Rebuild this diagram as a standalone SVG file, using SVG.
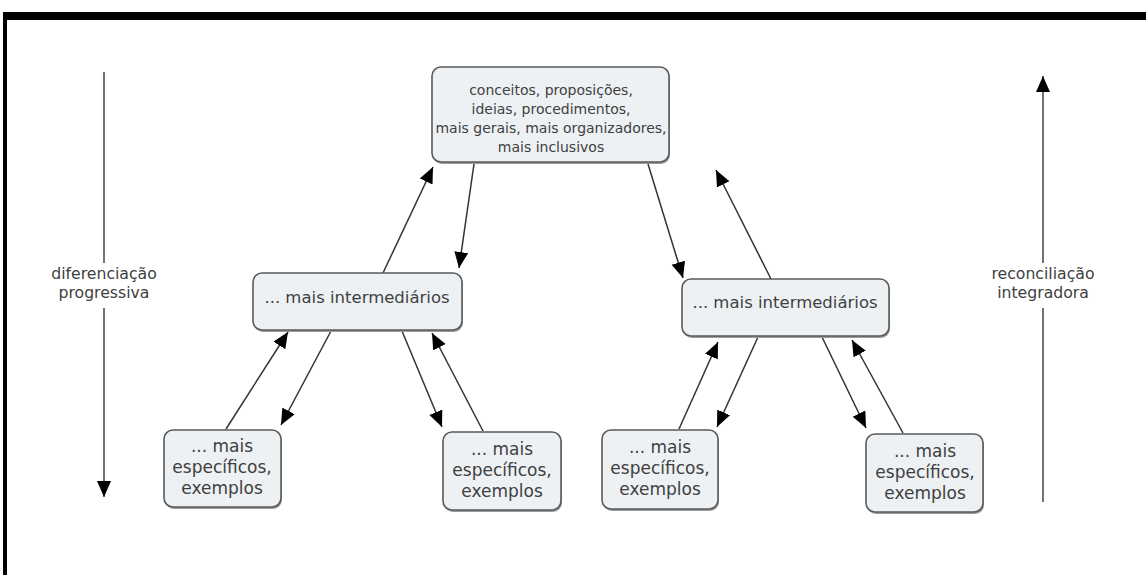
<svg xmlns="http://www.w3.org/2000/svg" width="1146" height="575" viewBox="0 0 1146 575">
<style>
.box{fill:#edf1f4;stroke:#5a5a5a;stroke-width:1.6}
.shadow{fill:#9a9a9a}
.t{font-family:"DejaVu Sans",Verdana,sans-serif;fill:#404040;text-anchor:middle}
.t14{font-size:14px}
.ts{font-size:15.7px}
.tm{font-size:16.5px}
.tb{font-size:17px}
.c{stroke:#333;stroke-width:1.5;fill:none;marker-end:url(#ah)}
.v{stroke:#444;stroke-width:1.5;fill:none}
</style>
<defs>
<marker id="ah" markerUnits="userSpaceOnUse" markerWidth="17" markerHeight="15" refX="16" refY="7" orient="auto">
<path d="M0,0 L16,7 L0,14 z" fill="#000"/>
</marker>
</defs>
<rect x="0" y="0" width="1146" height="575" fill="#fff"/>
<rect x="3" y="12" width="1143" height="8" fill="#000"/>
<rect x="3" y="12" width="4" height="563" fill="#000"/>

<g id="side-left">
<path class="v" d="M104,72 V263"/>
<path class="v" d="M104,308 V497" style="marker-end:url(#ah)"/>
<text class="t ts" x="104" y="279">diferenciação</text>
<text class="t ts" x="104" y="298">progressiva</text>
</g>
<g id="side-right">
<path class="v" d="M1043,502 V308"/>
<path class="v" d="M1043,263 V76" style="marker-end:url(#ah)"/>
<text class="t ts" x="1043" y="279">reconciliação</text>
<text class="t ts" x="1043" y="298">integradora</text>
</g>

<g id="connectors">
<path class="c" d="M383,273 L433,167"/>
<path class="c" d="M474,164 L459,268"/>
<path class="c" d="M648,164 L683,278"/>
<path class="c" d="M771,279 L716,170"/>
<path class="c" d="M226,429 L288,332"/>
<path class="c" d="M331,331 L281,425"/>
<path class="c" d="M402,331 L442,427"/>
<path class="c" d="M483,431 L432,333"/>
<path class="c" d="M679,429 L718,342"/>
<path class="c" d="M758,337 L717,427"/>
<path class="c" d="M822,337 L866,428"/>
<path class="c" d="M903,433 L852,340"/>
</g>

<g id="top">
<rect class="shadow" x="433" y="69" width="237" height="95" rx="9"/>
<rect class="box" x="432" y="67" width="237" height="95" rx="9"/>
<text class="t t14" x="551" y="95">conceitos, proposições,</text>
<text class="t t14" x="551" y="114">ideias, procedimentos,</text>
<text class="t t14" x="551" y="133">mais gerais, mais organizadores,</text>
<text class="t t14" x="551" y="152">mais inclusivos</text>
</g>

<g id="mid-left">
<rect class="shadow" x="254" y="275" width="209" height="57" rx="9"/>
<rect class="box" x="253" y="273" width="209" height="57" rx="9"/>
<text class="t tm" x="357" y="303">... mais intermediários</text>
</g>

<g id="mid-right">
<rect class="shadow" x="683" y="281" width="207" height="57" rx="9"/>
<rect class="box" x="682" y="279" width="207" height="57" rx="9"/>
<text class="t tm" x="785" y="308">... mais intermediários</text>
</g>

<g id="bottom-left-1">
<rect class="shadow" x="165" y="432" width="117" height="77" rx="9"/>
<rect class="box" x="164" y="430" width="117" height="77" rx="9"/>
<text class="t tb" x="222" y="452">... mais</text>
<text class="t tb" x="222" y="473">específicos,</text>
<text class="t tb" x="222" y="494">exemplos</text>
</g>

<g id="bottom-left-2">
<rect class="shadow" x="444" y="434" width="118" height="78" rx="9"/>
<rect class="box" x="443" y="432" width="118" height="78" rx="9"/>
<text class="t tb" x="502" y="455">... mais</text>
<text class="t tb" x="502" y="476">específicos,</text>
<text class="t tb" x="502" y="497">exemplos</text>
</g>

<g id="bottom-right-1">
<rect class="shadow" x="603" y="432" width="116" height="79" rx="9"/>
<rect class="box" x="602" y="430" width="116" height="79" rx="9"/>
<text class="t tb" x="660" y="453">... mais</text>
<text class="t tb" x="660" y="474">específicos,</text>
<text class="t tb" x="660" y="495">exemplos</text>
</g>

<g id="bottom-right-2">
<rect class="shadow" x="867" y="436" width="117" height="78" rx="9"/>
<rect class="box" x="866" y="434" width="117" height="78" rx="9"/>
<text class="t tb" x="925" y="457">... mais</text>
<text class="t tb" x="925" y="478">específicos,</text>
<text class="t tb" x="925" y="499">exemplos</text>
</g>
</svg>
